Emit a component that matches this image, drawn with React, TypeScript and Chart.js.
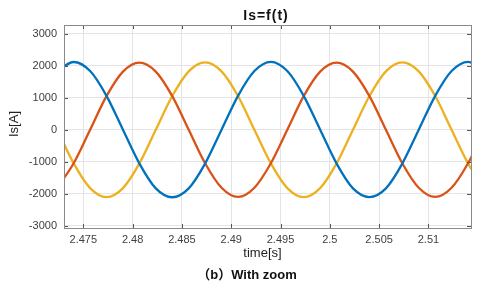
import React, { useEffect, useRef } from "react";
import { Chart, registerables } from "chart.js";

Chart.register(...registerables);

// time samples [s]
const timeS = [
  2.47235, 2.47402, 2.47569, 2.47735, 2.47902, 2.48069, 2.48235, 2.48402, 2.48569,
  2.48735, 2.48902, 2.49069, 2.49235, 2.49402, 2.49569, 2.49735, 2.49902, 2.50069,
  2.50235, 2.50402, 2.50569, 2.50735, 2.50902, 2.51069, 2.51235, 2.51402, 2.51569,
];
// phase currents [A]
const isBlue = [
  1832, 2115, 1832, 1058, 0, -1058, -1832, -2110, -1832, -1058, 0, 1058, 1832, 2120,
  1832, 1058, 0, -1058, -1832, -2105, -1832, -1058, 0, 1058, 1832, 2120, 1832,
];
const isRed = [
  -1814, -1048, 0, 1048, 1814, 2095, 1814, 1048, 0, -1048, -1814, -2100, -1814, -1048,
  0, 1048, 1814, 2095, 1814, 1048, 0, -1048, -1814, -2100, -1814, -1048, 0,
];
const isYellow = [
  0, -1052, -1823, -2105, -1823, -1052, 0, 1052, 1823, 2105, 1823, 1052, 0, -1052,
  -1823, -2105, -1823, -1052, 0, 1052, 1823, 2105, 1823, 1052, 0, -1052, -1823,
];

// axis ticks
const xTickValues = [2.475, 2.48, 2.485, 2.49, 2.495, 2.5, 2.505, 2.51];
const yTickValues = [-3000, -2000, -1000, 0, 1000, 2000, 3000];

const xMin = 2.47304;
const xMax = 2.51432;
const yMin = -3070;
const yMax = 3270;

const titleText = "Is=f(t)";
const xTitle = "time[s]";
const yTitle = "Is[A]";
const captionText = "（b）With zoom";

const FONT = "'Liberation Sans', Arial, 'Noto Sans CJK SC', sans-serif";

const framePlugin = {
  id: "matlabFrame",
  afterDraw(chart: any) {
    const { ctx, chartArea, scales } = chart;
    const { left, right, top, bottom } = chartArea;
    ctx.save();
    // inward ticks
    ctx.strokeStyle = "#555";
    ctx.lineWidth = 1;
    const tl = 4;
    ctx.beginPath();
    scales.x.ticks.forEach((t: any) => {
      const x = Math.round(scales.x.getPixelForValue(t.value)) + 0.5;
      ctx.moveTo(x, bottom);
      ctx.lineTo(x, bottom - tl);
      ctx.moveTo(x, top);
      ctx.lineTo(x, top + tl);
    });
    scales.y.ticks.forEach((t: any) => {
      const y = Math.round(scales.y.getPixelForValue(t.value)) + 0.5;
      ctx.moveTo(left, y);
      ctx.lineTo(left + tl, y);
      ctx.moveTo(right, y);
      ctx.lineTo(right - tl, y);
    });
    ctx.stroke();
    // frame
    ctx.strokeStyle = "#8a8a8a";
    ctx.strokeRect(Math.round(left) + 0.5, Math.round(top) + 0.5, Math.round(right - left), Math.round(bottom - top));

    // texts
    ctx.fillStyle = "#111";
    ctx.textAlign = "center";
    ctx.textBaseline = "middle";
    ctx.font = `bold 14px ${FONT}`;
    (ctx as any).letterSpacing = "1px";
    ctx.fillText(titleText, 266, 16);
    (ctx as any).letterSpacing = "0px";

    ctx.fillStyle = "#222";
    ctx.font = `13px ${FONT}`;
    ctx.fillText(xTitle, 262.5, 253);

    ctx.save();
    ctx.translate(14, 124);
    ctx.rotate(-Math.PI / 2);
    ctx.fillText(yTitle, 0, 0);
    ctx.restore();

    ctx.fillStyle = "#111";
    ctx.font = `bold 13px ${FONT}`;
    ctx.fillText(captionText, 247, 275);
    ctx.restore();
  },
};

export default function App() {
  const ref = useRef<HTMLCanvasElement | null>(null);
  useEffect(() => {
    if (!ref.current) return;
    const mk = (vals: number[], color: string) => ({
      data: timeS.map((t, i) => ({ x: t, y: vals[i] })),
      borderColor: color,
      backgroundColor: color,
      borderWidth: 2.3,
      pointRadius: 0,
      cubicInterpolationMode: "monotone" as const,
      fill: false,
    });
    const chart = new Chart(ref.current, {
      type: "line",
      data: {
        datasets: [
          mk(isBlue, "#0072BD"),
          mk(isRed, "#D95319"),
          mk(isYellow, "#EDB120"),
        ],
      },
      options: {
        animation: false,
        responsive: false,
        maintainAspectRatio: false,
        layout: { padding: { left: 0, right: 9, top: 25, bottom: 41 } },
        plugins: { legend: { display: false }, tooltip: { enabled: false }, title: { display: false } },
        scales: {
          x: {
            type: "linear",
            min: xMin,
            max: xMax,
            afterFit: (s: any) => { s.height = 20; },
            afterBuildTicks: (s: any) => { s.ticks = xTickValues.map((v) => ({ value: v })); },
            ticks: {
              padding: 5,
              color: "#404040",
              font: { family: FONT, size: 11 },
              maxRotation: 0,
              autoSkip: false,
              callback: (v: any) => String(Number(Number(v).toFixed(3))),
            },
            grid: { color: "#e4e4e4", drawTicks: false },
            border: { display: false },
          },
          y: {
            type: "linear",
            min: yMin,
            max: yMax,
            afterFit: (s: any) => { s.width = 64; },
            afterBuildTicks: (s: any) => { s.ticks = yTickValues.map((v) => ({ value: v })); },
            ticks: {
              padding: 7,
              color: "#404040",
              font: { family: FONT, size: 11 },
              autoSkip: false,
              callback: (v: any) => String(v),
            },
            grid: { color: "#e4e4e4", drawTicks: false },
            border: { display: false },
          },
        },
      },
      plugins: [framePlugin],
    });
    return () => chart.destroy();
  }, []);
  return (
    <div style={{ position: "fixed", left: 0, top: 0, width: 480, height: 289, background: "#fff" }}>
      <canvas ref={ref} width={480} height={289} />
    </div>
  );
}
